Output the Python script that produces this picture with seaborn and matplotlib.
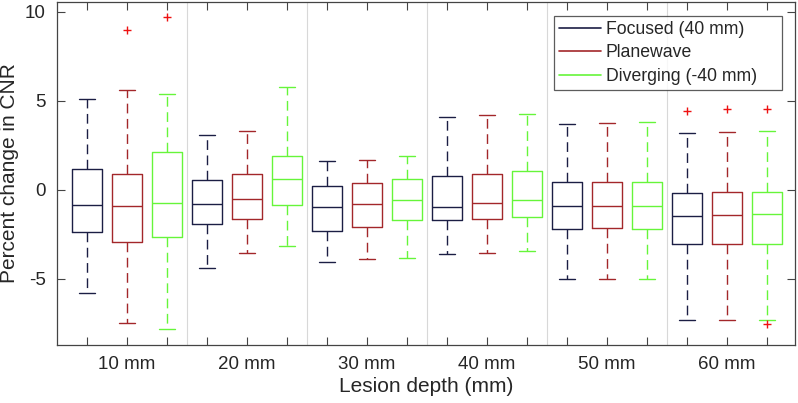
import numpy as np
import pandas as pd
import matplotlib
matplotlib.use("Agg")
import matplotlib.pyplot as plt
import seaborn as sns
from matplotlib.lines import Line2D

# ---- data ----
depths = ["10 mm", "20 mm", "30 mm", "40 mm", "50 mm", "60 mm"]
methods = ["Focused (40 mm)", "Planewave", "Diverging (-40 mm)"]

# per box: lower whisker, Q1, median, Q3, upper whisker (order: depth, then method)
focused_stats = [
    [-5.77, -2.38, -0.82, 1.16, 5.11],
    [-4.36, -1.89, -0.80, 0.54, 3.11],
    [-4.03, -2.28, -0.97, 0.21, 1.61],
    [-3.60, -1.70, -0.94, 0.79, 4.12],
    [-5.02, -2.19, -0.92, 0.47, 3.69],
    [-7.32, -3.05, -1.46, -0.19, 3.22],
]
planewave_stats = [
    [-7.45, -2.92, -0.88, 0.92, 5.60],
    [-3.56, -1.65, -0.51, 0.92, 3.30],
    [-3.88, -2.10, -0.77, 0.39, 1.69],
    [-3.54, -1.63, -0.75, 0.90, 4.23],
    [-5.00, -2.15, -0.90, 0.47, 3.78],
    [-7.28, -3.05, -1.42, -0.13, 3.28],
]
diverging_stats = [
    [-7.79, -2.64, -0.75, 2.12, 5.39],
    [-3.17, -0.86, 0.60, 1.93, 5.77],
    [-3.82, -1.70, -0.54, 0.63, 1.91],
    [-3.43, -1.52, -0.58, 1.05, 4.25],
    [-4.98, -2.17, -0.92, 0.43, 3.80],
    [-7.28, -3.01, -1.33, -0.09, 3.33],
]
# outliers: box index (1..18) and value
outlier_box = [2, 3, 16, 17, 18, 18]
outlier_val = [8.99, 9.70, 4.44, 4.53, 4.55, -7.53]

colors = ["#1b1e44", "#a3272a", "#66f53a"]

# ---- build long table ----
rows = []
all_stats = [focused_stats, planewave_stats, diverging_stats]
for d in range(len(depths)):
    for m in range(len(methods)):
        pos = d * 3 + m + 1
        for v in all_stats[m][d]:
            rows.append({"pos": pos, "value": v, "method": methods[m]})
df = pd.DataFrame(rows)
out_df = pd.DataFrame({"pos": outlier_box, "value": outlier_val})

# ---- plot ----
sns.set_style("white")
plt.rcParams["font.family"] = ["Liberation Sans", "DejaVu Sans"]

fig = plt.figure(figsize=(7.98, 4.03), dpi=100)
ax = fig.add_axes([57 / 798, 58 / 403, 738 / 798, 343 / 403])

# separators between depth groups
for xs in [3.5, 6.5, 9.5, 12.5, 15.5]:
    ax.axvline(xs, color="#d8d8d8", lw=0.8, zorder=0)

sns.boxplot(
    data=df, x="pos", y="value", hue="method", hue_order=methods,
    palette=colors, native_scale=True, dodge=False, width=0.76,
    fill=False, whis=(0, 100), showfliers=False, linewidth=1.0,
    whiskerprops={"linestyle": (0, (7, 4))},
    legend=False, ax=ax,
)
sns.scatterplot(data=out_df, x="pos", y="value", marker="+", color="#ee1111",
                s=40, linewidth=1.0, ax=ax, zorder=5)

ax.set_xlim(0.25, 18.7)
ax.set_ylim(-8.71, 10.56)

ax.set_xticks(np.arange(1, 19))
labels = [""] * 18
for i, dlab in enumerate(depths):
    labels[i * 3 + 1] = dlab
ax.set_xticklabels(labels, fontsize=13.5)
ax.set_yticks([-5, 0, 5, 10])
ax.set_yticklabels(["-5", "0", "5", "10"], fontsize=13.5)
ax.tick_params(direction="in", length=6, width=0.8, color="#444444",
               top=True, right=True, bottom=True, left=True, pad=8)
for sp in ax.spines.values():
    sp.set_color("#444444")
    sp.set_linewidth(0.9)

ax.set_xlabel("Lesion depth (mm)", fontsize=15, labelpad=3)
ax.set_ylabel("Percent change in CNR", fontsize=15, labelpad=4)

handles = [Line2D([0], [0], color=c, lw=1.2) for c in colors]
leg = ax.legend(handles, methods, loc="upper left", mode="expand",
                bbox_to_anchor=(0.673, 0.761, 0.309, 0.199),
                fontsize=12.7, frameon=True, fancybox=False, handlelength=2.4,
                handletextpad=0.25, labelspacing=0.36, borderpad=0.3, borderaxespad=0)
leg.get_frame().set_edgecolor("#333333")
leg.get_frame().set_linewidth(0.9)

fig.savefig("out.png", dpi=100)
